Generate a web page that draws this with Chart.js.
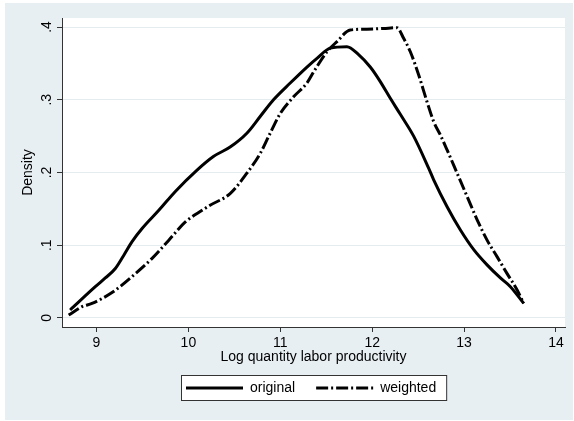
<!DOCTYPE html>
<html>
<head>
<meta charset="utf-8">
<script src="https://cdn.jsdelivr.net/npm/chart.js@4.4.1/dist/chart.umd.min.js"></script>
<style>
  html, body { margin: 0; padding: 0; background: #fff; }
</style>
</head>
<body>
<canvas id="GraficoDensidade" width="574" height="421"></canvas>
<script>
// kernel density of log quantity labor productivity, original vs weighted
var origX = [8.713, 8.987, 9.096, 9.205, 9.296, 9.387, 9.496, 9.678, 9.858, 10.091,
    10.272, 10.454, 10.636, 10.781, 10.926, 11.108, 11.29, 11.399, 11.544, 11.725,
    11.852, 11.979, 12.088, 12.197, 12.306, 12.451, 12.614, 12.669, 12.815, 12.96,
    13.105, 13.25, 13.395, 13.504, 13.649];
var origDensity = [0.011, 0.043, 0.055, 0.068, 0.086, 0.105, 0.123, 0.148, 0.174, 0.203,
    0.222, 0.235, 0.254, 0.277, 0.300, 0.323, 0.345, 0.357, 0.371, 0.373,
    0.362, 0.345, 0.325, 0.302, 0.280, 0.250, 0.206, 0.190, 0.153, 0.121,
    0.094, 0.073, 0.055, 0.043, 0.020];

var wtdX = [8.697, 8.842, 8.951, 9.169, 9.387, 9.605, 9.787, 9.967, 10.149, 10.236,
    10.454, 10.636, 10.781, 10.89, 10.999, 11.144, 11.29, 11.364, 11.508, 11.617,
    11.761, 11.943, 12.124, 12.27, 12.342, 12.415, 12.506, 12.597, 12.669, 12.742,
    12.815, 12.924, 13.033, 13.142, 13.25, 13.36, 13.468, 13.577, 13.649];
var wtdDensity = [0.004, 0.0155, 0.020, 0.035, 0.057, 0.082, 0.107, 0.132, 0.148, 0.155,
    0.171, 0.199, 0.226, 0.254, 0.281, 0.304, 0.323, 0.3385, 0.366, 0.380,
    0.396, 0.397, 0.398, 0.399, 0.3845, 0.366, 0.334, 0.297, 0.270, 0.2515,
    0.231, 0.199, 0.167, 0.135, 0.107, 0.084, 0.061, 0.0385, 0.020];

var xTicks = [9, 10, 11, 12, 13, 14];
var yTicks = [0, 0.1, 0.2, 0.3, 0.4];
var yTickLabels = ['0', '.1', '.2', '.3', '.4'];

var FONTE = '"Liberation Sans", Arial, sans-serif';

function PegarPontos(xs, ys) {
    return xs.map(function (x, i) {
        return { x: x, y: ys[i] };
    });
}

// graph region (bluish gray) and white plot region
var fundo = {
    id: 'fundo',
    beforeDraw: function (chart) {
        var ctx = chart.ctx, a = chart.chartArea;
        ctx.save();
        ctx.fillStyle = '#ffffff';
        ctx.fillRect(0, 0, chart.width, chart.height);
        ctx.fillStyle = '#e8eff3';
        ctx.fillRect(5, 3, 568, 417);
        ctx.fillStyle = '#ffffff';
        ctx.fillRect(a.left, a.top, a.right - a.left, a.bottom - a.top);
        ctx.restore();
    }
};

// boxed legend under the x axis title
var legenda = {
    id: 'legenda',
    afterDraw: function (chart) {
        var ctx = chart.ctx, a = chart.chartArea;
        var amostra = 57, folga = 7, entre = 21, topo = 375, altura = 25;
        ctx.save();
        ctx.font = '14px ' + FONTE;
        var itens = chart.data.datasets.map(function (ds) {
            return { ds: ds, w: ctx.measureText(ds.label).width };
        });
        var largura = 5 + 10 + entre * (itens.length - 1);
        itens.forEach(function (it) { largura += amostra + folga + it.w; });
        var esq = Math.round((a.left + a.right) / 2 - largura / 2);

        ctx.fillStyle = '#ffffff';
        ctx.fillRect(esq, topo, largura, altura);
        ctx.strokeStyle = '#333333';
        ctx.lineWidth = 1;
        ctx.strokeRect(esq + 0.5, topo + 0.5, largura, altura);

        var x = esq + 5, y = topo + altura / 2 + 0.5;
        itens.forEach(function (it) {
            ctx.beginPath();
            ctx.setLineDash(it.ds.borderDash || []);
            ctx.lineWidth = it.ds.borderWidth;
            ctx.strokeStyle = it.ds.borderColor;
            ctx.moveTo(x, y);
            ctx.lineTo(x + amostra, y);
            ctx.stroke();
            ctx.setLineDash([]);
            ctx.fillStyle = '#000000';
            ctx.textBaseline = 'middle';
            ctx.textAlign = 'left';
            ctx.fillText(it.ds.label, x + amostra + folga, y);
            x += amostra + folga + it.w + entre;
        });
        ctx.restore();
    }
};

Chart.defaults.font.family = FONTE;
Chart.defaults.font.size = 14;
Chart.defaults.color = '#000000';

new Chart(document.getElementById('GraficoDensidade'), {
    type: 'line',
    data: {
        datasets: [{
            label: 'original',
            data: PegarPontos(origX, origDensity),
            borderColor: '#000000',
            borderWidth: 3,
            pointRadius: 0,
            fill: false,
            cubicInterpolationMode: 'monotone'
        }, {
            label: 'weighted',
            data: PegarPontos(wtdX, wtdDensity),
            borderColor: '#000000',
            borderWidth: 3,
            borderDash: [12, 3, 2, 3],
            pointRadius: 0,
            fill: false,
            cubicInterpolationMode: 'monotone'
        }]
    },
    options: {
        responsive: false,
        animation: false,
        layout: { padding: { left: 5, top: 18, right: 9, bottom: 54 } },
        plugins: {
            legend: { display: false },
            tooltip: { enabled: false }
        },
        scales: {
            x: {
                type: 'linear',
                min: 8.6246,
                max: 14.098,
                afterBuildTicks: function (s) {
                    s.ticks = xTicks.map(function (v) { return { value: v }; });
                },
                afterFit: function (s) { s.height = 40; },
                grid: { drawOnChartArea: false, tickLength: 5, tickColor: '#333333' },
                border: { color: '#333333', width: 1 },
                ticks: {
                    padding: 3,
                    maxRotation: 0,
                    callback: function (v) { return String(v); }
                },
                title: {
                    display: true,
                    text: 'Log quantity labor productivity',
                    padding: { top: 0, bottom: 1 }
                }
            },
            y: {
                type: 'linear',
                min: -0.0124,
                max: 0.4124,
                afterBuildTicks: function (s) {
                    s.ticks = yTicks.map(function (v) { return { value: v }; });
                },
                afterFit: function (s) { s.width = 57; },
                grid: { color: '#e4ecef', lineWidth: 1, tickLength: 5, tickColor: '#333333' },
                border: { color: '#333333', width: 1 },
                ticks: {
                    minRotation: 90,
                    maxRotation: 90,
                    crossAlign: 'center',
                    padding: 4,
                    callback: function (v) { return yTickLabels[yTicks.indexOf(v)]; }
                },
                title: {
                    display: true,
                    text: 'Density',
                    padding: { top: 15, bottom: 0 }
                }
            }
        }
    },
    plugins: [fundo, legenda]
});
</script>
</body>
</html>
